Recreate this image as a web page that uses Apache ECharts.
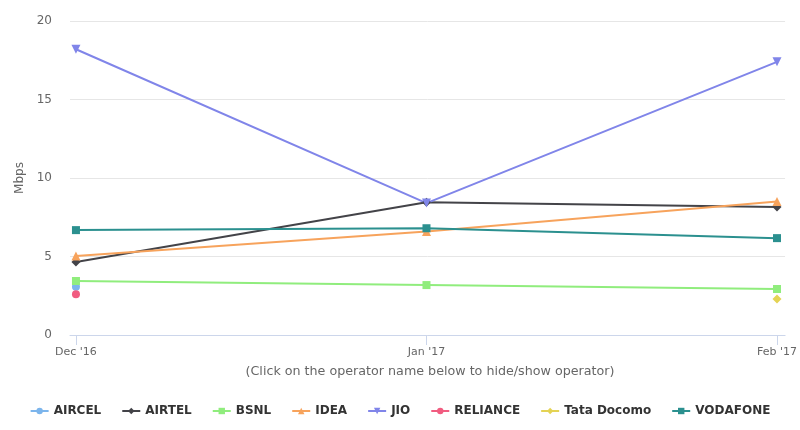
<!DOCTYPE html>
<html><head><meta charset="utf-8">
<script src="https://cdn.jsdelivr.net/npm/echarts@6/dist/echarts.min.js"></script>
<style>html,body{margin:0;padding:0;background:#fff}#c{width:800px;height:430px}</style>
</head><body><div id="c"></div>
<script>
const categories = ["Dec '16", "Jan '17", "Feb '17"];
const AIRCEL = [3.07, null, null];
const AIRTEL = [4.65, 8.45, 8.15];
const BSNL = [3.44, 3.18, 2.93];
const IDEA = [5.03, 6.6, 8.5];
const JIO = [18.2, 8.4, 17.4];
const RELIANCE = [2.6, null, null];
const TATA = [null, null, 2.3];
const VODAFONE = [6.68, 6.8, 6.17];
const yTicks = [0, 5, 10, 15, 20];

const seriesDefs = [
  ['AIRCEL', AIRCEL, '#7cb5ec', 'circle', 8],
  ['AIRTEL', AIRTEL, '#434348', 'diamond', 9],
  ['BSNL', BSNL, '#90ed7d', 'rect', 8],
  ['IDEA', IDEA, '#f7a35c', 'triangle', 9],
  ['JIO', JIO, '#8085e9', 'path://M0,0 L10,0 L5,10 Z', 9],
  ['RELIANCE', RELIANCE, '#f15c80', 'circle', 8],
  ['Tata Docomo', TATA, '#e4d354', 'diamond', 9],
  ['VODAFONE', VODAFONE, '#2b908f', 'rect', 8]
];

const chart = echarts.init(document.getElementById('c'), null, {renderer: 'canvas'});
const font = '"DejaVu Sans", Verdana, sans-serif';
chart.setOption({
  animation: false,
  textStyle: {fontFamily: font},
  grid: {left: 70, right: 10, top: 21, bottom: 95},
  xAxis: {
    type: 'value', min: -0.017, max: 2.023,
    splitLine: {show: false},
    axisLine: {show: true, lineStyle: {color: '#ccd6eb'}},
    axisTick: {show: true, customValues: [0, 1, 2], length: 10, lineStyle: {color: '#ccd6eb'}},
    axisLabel: {customValues: [0, 1, 2], color: '#666', fontSize: 11, margin: 12, fontFamily: font,
      formatter: v => categories[Math.round(v)]}
  },
  yAxis: {
    type: 'value', min: yTicks[0], max: yTicks[yTicks.length - 1], interval: 5,
    name: 'Mbps', nameLocation: 'middle', nameGap: 42,
    nameTextStyle: {color: '#666', fontSize: 12, fontFamily: font},
    axisLine: {show: false}, axisTick: {show: false},
    axisLabel: {color: '#666', fontSize: 12, margin: 18, fontFamily: font},
    splitLine: {lineStyle: {color: '#e6e6e6'}}
  },
  legend: {
    bottom: 8, left: 'center', itemWidth: 18, itemHeight: 8, itemGap: 20,
    textStyle: {color: '#333', fontSize: 12, fontWeight: 'bold', fontFamily: font},
    data: seriesDefs.map(s => s[0])
  },
  graphic: [{type: 'text', x: 430, y: 365,
    style: {text: '(Click on the operator name below to hide/show operator)', fill: '#666', fontSize: 12.7, fontFamily: font, align: 'center'}}],
  series: seriesDefs.map(([name, vals, color, sym, size]) => ({
    name, type: 'line', color,
    data: vals.map((v, i) => [i, v]),
    symbol: sym, symbolSize: size, showSymbol: true,
    lineStyle: {width: 2, color},
    itemStyle: {color},
    connectNulls: false
  }))
});
</script></body></html>
